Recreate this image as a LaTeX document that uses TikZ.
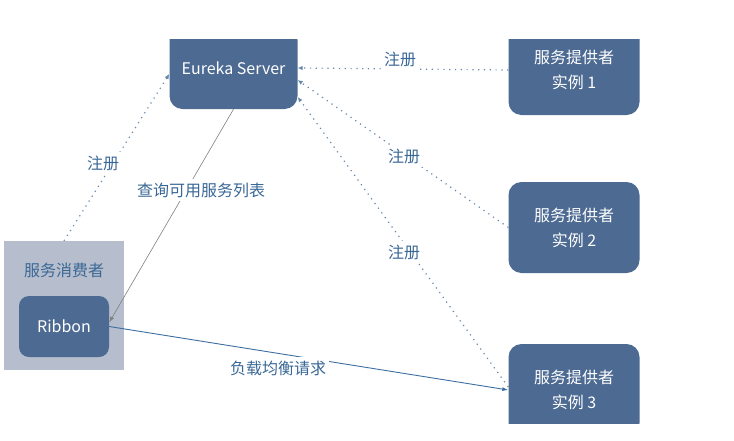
\documentclass[tikz,border=0pt]{standalone}
\usepackage{fontspec}
\setmainfont{Noto Sans CJK SC}
\usetikzlibrary{arrows.meta}
\definecolor{boxblue}{RGB}{76,106,146}
\definecolor{labelblue}{RGB}{58,104,150}
\definecolor{consumergrey}{RGB}{182,189,204}
\definecolor{dotblue}{RGB}{100,136,172}
\definecolor{reqblue}{RGB}{60,110,160}
\begin{document}
\begin{tikzpicture}[x=1pt,y=-1pt,
  box/.style={fill=boxblue,text=white,rounded corners=13pt,align=center,font=\fontsize{16}{25}\selectfont},
  lbl/.style={fill=white,text=labelblue,font=\fontsize{16}{20}\selectfont},
  reg/.style={dotblue,line width=1.2pt,dash pattern=on 1.2pt off 4.6pt,-{Latex[length=5pt,width=4.5pt]}}]
\useasboundingbox (0,0) rectangle (734,440);

\begin{scope}
\clip (0,39) rectangle (734,423);
\node[box,minimum width=128pt,minimum height=82pt] (eureka) at (233.5,68) {Eureka Server};
\node[box,minimum width=131pt,minimum height=90pt] (p1) at (574,70) {服务提供者\\实例 1};
\node[box,minimum width=131pt,minimum height=91pt] (p2) at (574,227.5) {服务提供者\\实例 2};
\node[box,minimum width=131pt,minimum height=92pt] (p3) at (574,390) {服务提供者\\实例 3};
\end{scope}

\node[fill=consumergrey,minimum width=120pt,minimum height=129pt] (consumer) at (64,305.5) {};
\node[text=labelblue,font=\fontsize{16}{20}\selectfont] (consumertitle) at (64,270) {服务消费者};
\node[box,rounded corners=10pt,minimum width=90pt,minimum height=61pt] (ribbon) at (64,326.5) {Ribbon};

% registrations
\draw[reg] (consumer.north) -- ([yshift=-6pt]eureka.west);
\draw[reg] (p1.west) -- (eureka.east);
\draw[reg] (p2.west) -- ([yshift=-12pt]eureka.east);
\draw[reg] ([yshift=3pt]p3.west) -- ([yshift=-29pt]eureka.east);

\draw[gray,line width=0.6pt,-{Latex[length=6pt,width=4pt]}] (eureka.south) -- ([yshift=4pt]ribbon.east);
\draw[reqblue,line width=0.9pt,-{Latex[length=6pt,width=4pt]}] (ribbon.east) -- (p3.west);

\node[lbl] (reglbl0) at (103,163) {注册};
\node[lbl] (reglbl1) at (400,59) {注册};
\node[lbl] (reglbl2) at (404,156) {注册};
\node[lbl] (reglbl3) at (404,252) {注册};
\node[lbl] (querylbl) at (201,190) {查询可用服务列表};
\node[lbl] (reqlbl) at (278,368) {负载均衡请求};
\end{tikzpicture}
\end{document}
